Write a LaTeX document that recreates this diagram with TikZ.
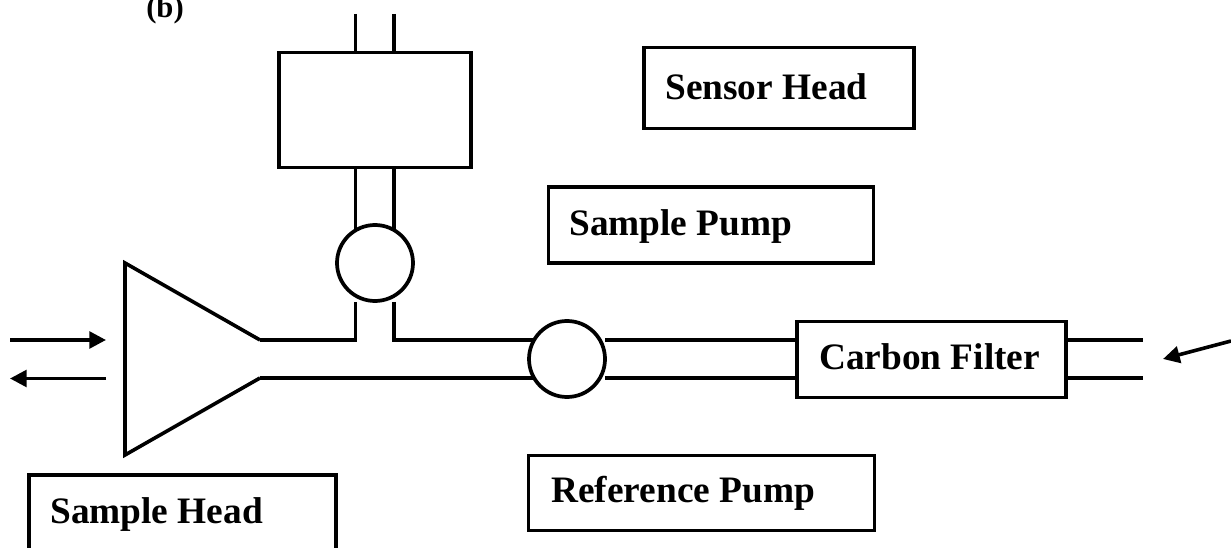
\documentclass[tikz,border=0pt]{standalone}
\usepackage{fontspec}
\setmainfont{Liberation Serif}
\usetikzlibrary{arrows.meta}
\tikzset{
  x=0.75pt,y=-0.75pt,
  line/.style={line width=2.7pt,line cap=butt,line join=miter},
  box/.style={draw,line width=2.8pt,rectangle,inner sep=0pt,outer sep=0pt,anchor=north west},
  pump/.style={draw,line width=2.8pt,circle,inner sep=0pt,outer sep=0pt,minimum size=57pt,fill=white},
  txt/.style={anchor=base west,inner sep=0pt,font=\fontsize{28}{32}\selectfont\bfseries},
  flow/.style={line width=2.7pt,-{Triangle[length=12.5pt,width=12.5pt]}}
}
\begin{document}
\begin{tikzpicture}
\useasboundingbox (0,0) rectangle (1231,548);
\begin{scope}
\clip (0,0) rectangle (1231,548);
% pipes and triangle
\coordinate (t1) at (125,263);
\coordinate (t2) at (125,455);
\coordinate (t3) at (260,340);
\coordinate (t4) at (260,378);
\coordinate (s1) at (355.5,340);
\coordinate (s2) at (394,340);
\coordinate (s3) at (355.5,302);
\coordinate (s4) at (394,302);
\coordinate (p1) at (567,340);
\coordinate (p2) at (567,378);
\coordinate (p3) at (605,340);
\coordinate (p4) at (605,378);
\coordinate (f1) at (797,340);
\coordinate (f2) at (797,378);
\coordinate (o1) at (1143,340);
\coordinate (o2) at (1143,378);
\coordinate (c1) at (1066,340);
\coordinate (c2) at (1066,378);
\coordinate (u1) at (355.5,14);
\coordinate (u2) at (394,14);
\coordinate (v1) at (355.5,52);
\coordinate (v2) at (394,52);
\coordinate (w1) at (355.5,167);
\coordinate (w2) at (394,167);
\coordinate (w3) at (355.5,240);
\coordinate (w4) at (394,240);
\draw[line] (t3) -- (t1) -- (t2) -- (t4);
\draw[line] (t3) -- (s1) -- (s3);
\draw[line] (s4) -- (s2) -- (p1);
\draw[line] (t4) -- (p2);
\draw[line] (p3) -- (f1);
\draw[line] (p4) -- (f2);
\draw[line] (u1) -- (v1);
\draw[line] (u2) -- (v2);
\draw[line] (w1) -- (w3);
\draw[line] (w2) -- (w4);
\draw[line] (c1) -- (o1);
\draw[line] (c2) -- (o2);
% pumps
\node[pump] (pumpA) at (375,263) {};
\node[pump] (pumpB) at (567,359) {};
% boxes
\node[box,minimum width=192*0.75pt,minimum height=115*0.75pt] (sensor) at (279,52.5) {};
\node[box,minimum width=270*0.75pt,minimum height=81*0.75pt] (sensorlabel) at (644,47.5) {};
\node[box,minimum width=325*0.75pt,minimum height=76*0.75pt] (samplelabel) at (548.5,187) {};
\node[box,minimum width=346*0.75pt,minimum height=75*0.75pt] (reflabel) at (528.5,455.5) {};
\node[box,minimum width=269*0.75pt,minimum height=76*0.75pt] (filter) at (797,321.5) {};
\node[box,minimum width=307*0.75pt,minimum height=100*0.75pt] (headlabel) at (29,475) {};
% arrows
\coordinate (a1) at (10,340); \coordinate (a2) at (106,340);
\coordinate (b1) at (106,378.5); \coordinate (b2) at (10,378.5);
\coordinate (d1) at (1231,341); \coordinate (d2) at (1163,359);
\draw[flow] (a1) -- (a2);
\draw[flow] (b1) -- (b2);
\draw[flow] (d1) -- (d2);
% texts
\node[txt] (tb) at (665,100) {Sensor Head};
\node[txt] (tc) at (569,236) {Sample Pump};
\node[txt] (td) at (819,369.5) {Carbon Filter};
\node[txt] (te) at (551,503) {Reference Pump};
\node[txt] (tf) at (50,523.5) {Sample Head};
\node[anchor=base west,inner sep=0pt,font=\fontsize{23}{25}\selectfont\bfseries] (ta) at (146,18) {(b)};
\end{scope}
\end{tikzpicture}
\end{document}
